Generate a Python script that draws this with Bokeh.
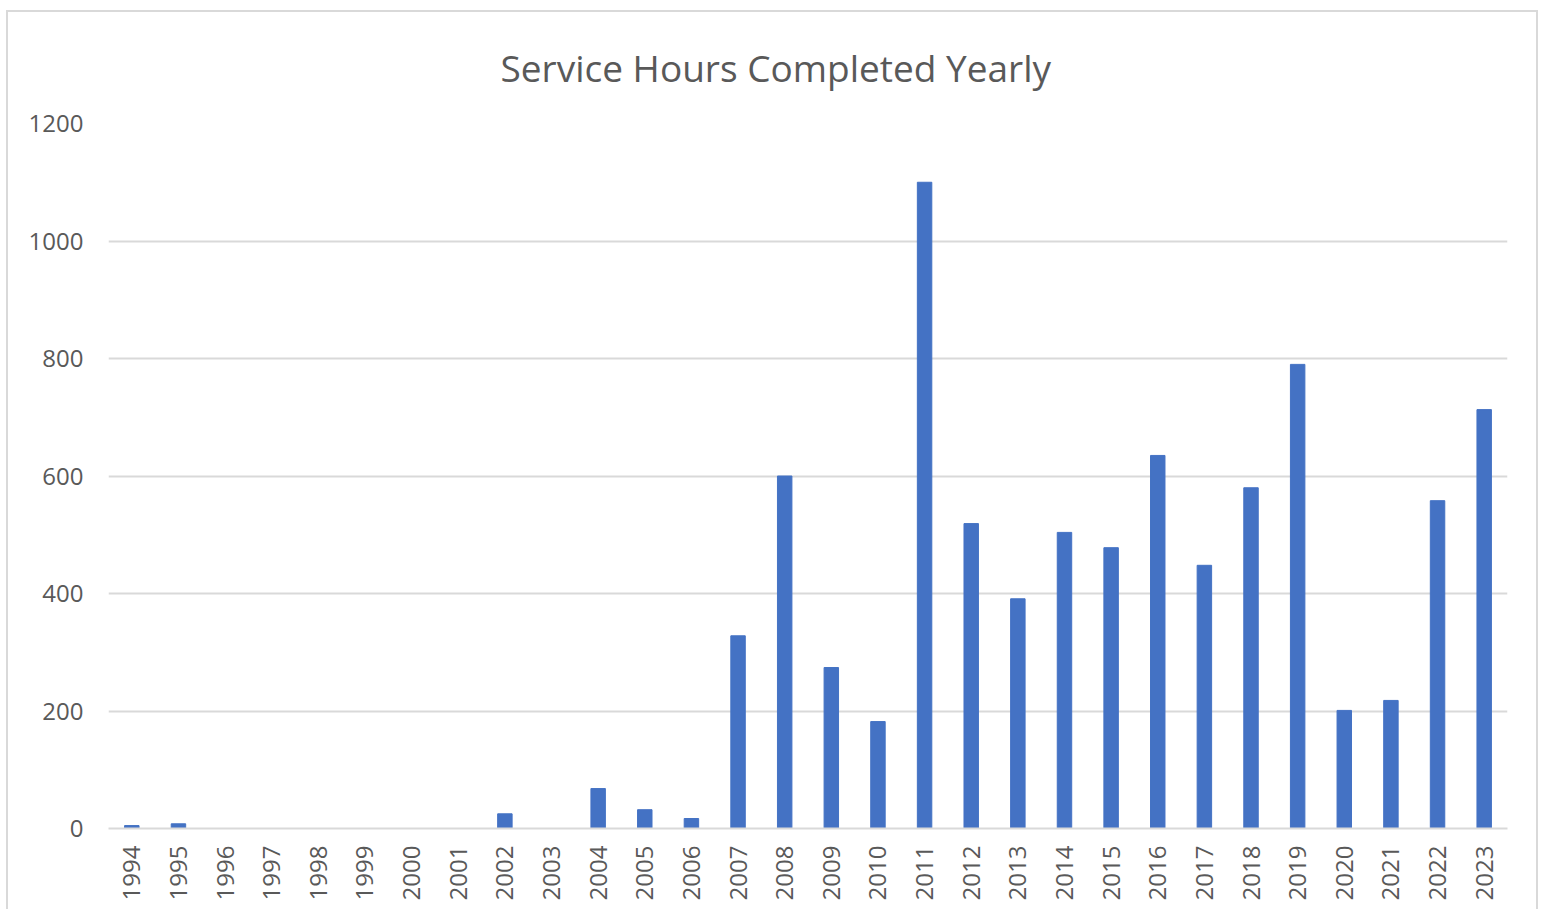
import math
from bokeh.plotting import figure
from bokeh.models import ColumnDataSource, FactorRange, Range1d
from bokeh.embed import file_html
from bokeh.resources import INLINE

years = [str(y) for y in range(1994, 2024)]
hours = [5, 8, 0, 0, 0, 0, 0, 0, 25, 0, 68, 32, 17, 328, 600, 274, 182, 1100,
         519, 391, 504, 478, 635, 448, 580, 790, 201, 218, 558, 713]
y_ticks = [0, 200, 400, 600, 800, 1000, 1200]

source = ColumnDataSource(dict(year=years, hours=hours))

p = figure(x_range=FactorRange(factors=years), y_range=Range1d(0, 1200),
           width=1532, height=899, output_backend="svg", toolbar_location=None,
           title="Service Hours Completed Yearly",
           min_border_left=100, min_border_right=33, min_border_top=111,
           min_border_bottom=83)

p.vbar(x="year", top="hours", width=0.31, source=source,
       fill_color="#4472C4", line_color="#4472C4")

p.title.align = "left"
p.title.vertical_align = "top"
p.title.offset = 392
p.title.text_font = "Open Sans"
p.title.text_font_size = "37px"
p.title.text_font_style = "normal"
p.title.text_color = "#595959"
p.title.standoff = 58

p.outline_line_color = None
p.xgrid.grid_line_color = None
p.ygrid.grid_line_color = "#d9d9d9"
p.ygrid.grid_line_width = 2
p.yaxis.ticker = y_ticks

p.yaxis.axis_line_color = None
p.yaxis.major_tick_line_color = None
p.yaxis.minor_tick_line_color = None
p.yaxis.major_label_standoff = 19
p.yaxis.major_label_text_font = "Open Sans"
p.yaxis.major_label_text_font_size = "24px"
p.yaxis.major_label_text_color = "#595959"

p.xaxis.axis_line_color = "#d9d9d9"
p.xaxis.axis_line_width = 2
p.xaxis.major_tick_line_color = None
p.xaxis.minor_tick_line_color = None
p.xaxis.major_label_orientation = math.pi / 2
p.xaxis.major_label_standoff = 11
p.xaxis.major_label_text_font = "Open Sans"
p.xaxis.major_label_text_font_size = "24px"
p.xaxis.major_label_text_color = "#595959"

p.styles = {"border": "2px solid #d9d9d9", "border-bottom": "none",
            "margin-left": "6px", "margin-top": "10px"}

open("out.html", "w").write(file_html(p, INLINE))
